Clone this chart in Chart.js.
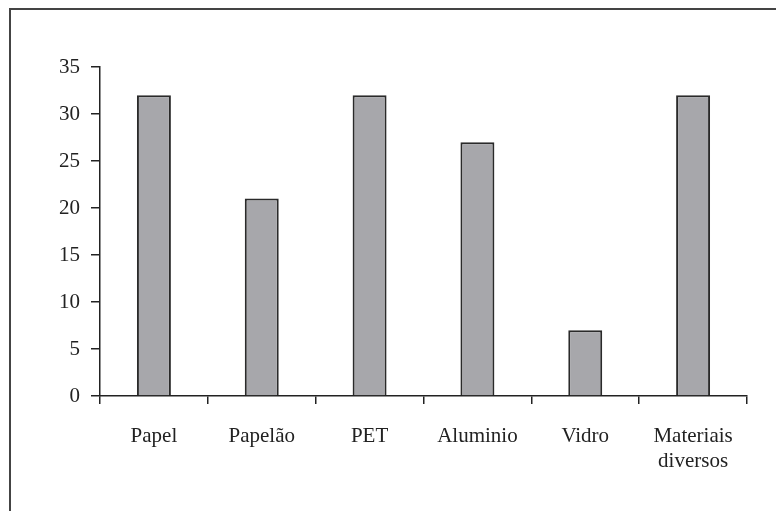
<!DOCTYPE html>
<html>
<head>
  <meta charset="UTF-8">
  <title>Materiais</title>
  <script src="https://cdn.jsdelivr.net/npm/chart.js"></script>
  <style>
    body { margin: 0; background: #fff; }
    #wrap { position: relative; width: 776px; height: 511px; overflow: hidden; }
    #frame { position: absolute; left: 9px; top: 8px; width: 900px; height: 600px;
             border-top: 2px solid #444; border-left: 2px solid #444; }
    canvas { position: absolute; left: 0; top: 0; }
  </style>
</head>
<body>
  <div id="wrap">
    <div id="frame"></div>
    <canvas id="chart" width="776" height="511"></canvas>
  </div>

  <script>
    // data
    const categories = ['Papel', 'Papelão', 'PET', 'Aluminio', 'Vidro', ['Materiais', 'diversos']];
    const values     = [32, 21, 32, 27, 7, 32];
    const yTicks     = [0, 5, 10, 15, 20, 25, 30, 35];

    const font = { family: "'Liberation Serif', 'DejaVu Serif', serif", size: 21 };

    new Chart(document.getElementById('chart').getContext('2d'), {
      type: 'bar',
      data: {
        labels: categories,
        datasets: [{
          data: values,
          backgroundColor: '#a7a7ab',
          borderColor: '#2a2a2a',
          borderWidth: 2,
          barPercentage: 0.315,
          categoryPercentage: 1
        }]
      },
      options: {
        responsive: false,
        animation: false,
        layout: { padding: { top: 67, right: 29, left: 0, bottom: 0 } },
        plugins: { legend: { display: false }, tooltip: { enabled: false } },
        scales: {
          x: {
            afterFit: s => { s.height = 115; },
            grid: { display: true, drawOnChartArea: false, offset: true, tickLength: 8, tickColor: '#222', lineWidth: 1.5 },
            border: { display: true, color: '#222', width: 1.5 },
            ticks: { font, color: '#222', padding: 20, maxRotation: 0, autoSkip: false }
          },
          y: {
            min: 0,
            max: yTicks[yTicks.length - 1],
            afterFit: s => { s.width = 100; },
            afterBuildTicks: s => { s.ticks = yTicks.map(v => ({ value: v })); },
            grid: { display: true, drawOnChartArea: false, tickLength: 9, tickColor: '#222', lineWidth: 1.5 },
            border: { display: true, color: '#222', width: 1.5 },
            ticks: { font, color: '#222', padding: 11 }
          }
        }
      }
    });
  </script>
</body>
</html>
